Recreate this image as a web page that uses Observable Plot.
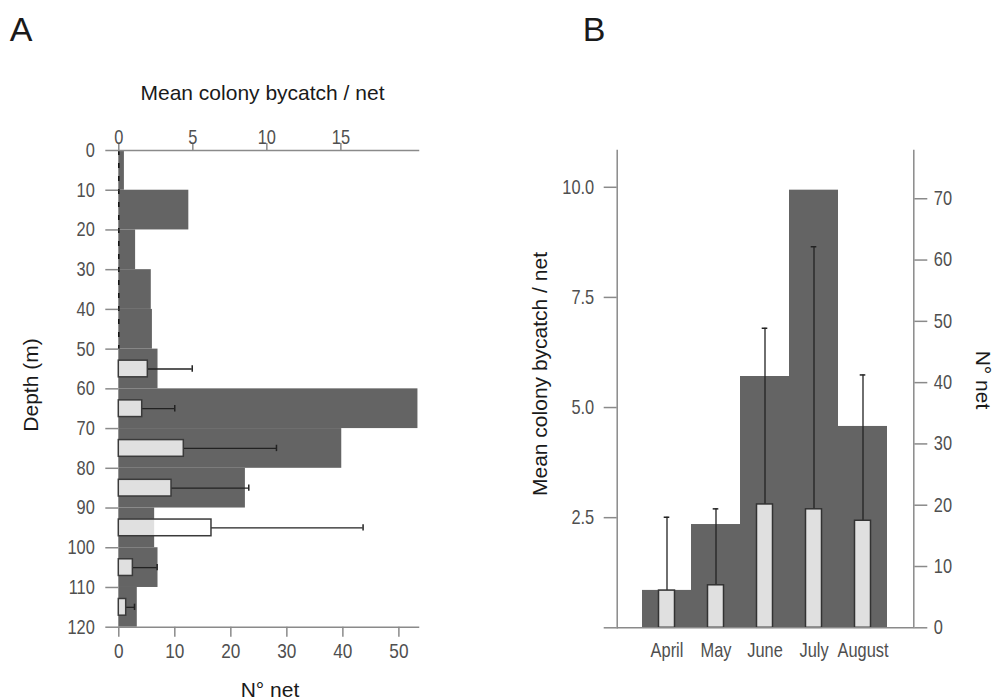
<!DOCTYPE html>
<html><head><meta charset="utf-8">
<script src="https://cdn.jsdelivr.net/npm/d3@7"></script>
<script src="https://cdn.jsdelivr.net/npm/@observablehq/plot@0.6"></script>
<style>
body{margin:0;background:#fff;}
#wrap{position:relative;width:995px;height:699px;overflow:hidden;font-family:"Liberation Sans",Arial,sans-serif;}
.panel{position:absolute;top:0;}
.lbl{position:absolute;white-space:nowrap;color:#1a1a1a;font-size:21px;line-height:1;}
</style></head><body><div id="wrap"></div>
<script>
// ---- Panel A data (by depth bin, m) ----
const depthStart = [0, 10, 20, 30, 40, 50, 60, 70, 80, 90, 100, 110];
const netsByDepth = [1, 12.5, 3, 5.8, 6, 7, 53.4, 39.8, 22.6, 6.4, 7, 3.3];
const bycatchByDepth = [0, 0, 0, 0, 0, 1.96, 1.58, 4.39, 3.56, 6.26, 0.95, 0.5];
const upperByDepth = [null, null, null, null, null, 4.96, 3.78, 10.65, 8.78, 16.5, 2.59, 1.06];
const depthTicks = [0, 10, 20, 30, 40, 50, 60, 70, 80, 90, 100, 110, 120];
const netTicksA = [0, 10, 20, 30, 40, 50];
const bycatchTicksA = [0, 5, 10, 15];

// ---- Panel B data (by month) ----
const months = ["April", "May", "June", "July", "August"];
const netsByMonth = [6.1, 16.85, 41, 71.4, 32.85];
const bycatchByMonth = [0.845, 0.965, 2.8, 2.69, 2.43];
const upperByMonth = [2.51, 2.7, 6.8, 8.65, 5.74];
const bycatchTicksB = [0, 2.5, 5, 7.5, 10];
const netTicksB = [0, 10, 20, 30, 40, 50, 60, 70];

const tickFont = "'Liberation Sans',Arial,sans-serif";
const DARK = "#646464", AXIS = "#8a8a8a", TXT = "#4f4f4f";

// Panel A: one x scale in "N° net" units; bycatch converted by K
const K = 14.8 / 5.6;
const rowsA = depthStart.map((d, i) => ({d0: d, d1: d + 10, mid: d + 5, n: netsByDepth[i], m: bycatchByDepth[i], u: upperByDepth[i]}));
const errA = rowsA.filter(r => r.u != null);

const plotA = Plot.plot({
  width: 460, height: 699,
  marginLeft: 118.3, marginRight: 42, marginTop: 150, marginBottom: 72.3,
  style: {fontFamily: tickFont, fontSize: "20px", color: TXT, background: "transparent", overflow: "visible"},
  x: {domain: [0, 53.5]},
  y: {domain: [0, 120], reverse: true},
  marks: [
    Plot.rectX(rowsA, {x1: 0, x2: "n", y1: "d0", y2: "d1", fill: DARK}),
    Plot.ruleX([0], {y1: 0, y2: 50, stroke: "#111", strokeWidth: 1.5, strokeDasharray: "5,8"}),
    Plot.ruleY(errA, {y: "mid", x1: d => d.m * K, x2: d => d.u * K, stroke: "#222", strokeWidth: 1.3}),
    Plot.ruleX(errA, {x: d => d.u * K, y1: d => d.mid - 0.8, y2: d => d.mid + 0.8, stroke: "#222", strokeWidth: 1.5}),
    Plot.rectX(errA, {x1: 0, x2: d => d.m * K, y1: d => d.mid - 2.1, y2: d => d.mid + 2.1, fill: "white", fillOpacity: 0.8, stroke: "#3a3a3a", strokeWidth: 1.5}),
    Plot.frame({anchor: "top", stroke: AXIS, strokeWidth: 1.5}),
    Plot.frame({anchor: "bottom", stroke: AXIS, strokeWidth: 1.5}),
    Plot.axisY({anchor: "left", ticks: depthTicks, tickSize: 13, tickPadding: 11, stroke: AXIS, strokeWidth: 1.5, label: null}),
    Plot.axisX({anchor: "top", ticks: bycatchTicksA.map(v => v * K), tickFormat: d => String(Math.round(d / K)), tickSize: 8, tickPadding: -1, stroke: AXIS, strokeWidth: 1.5, label: null}),
    Plot.axisX({anchor: "bottom", ticks: netTicksA, tickSize: 10, tickPadding: 6, stroke: AXIS, strokeWidth: 1.5, label: null, fontSize: 21})
  ]
});

// Panel B: y scale in bycatch units; nets converted by F
const F = 6.129 / 44.05;
const rowsB = months.map((m, i) => ({m, n: netsByMonth[i], v: bycatchByMonth[i], u: upperByMonth[i]}));

const plotB = Plot.plot({
  width: 495, height: 699,
  marginLeft: 116.7, marginRight: 81.7, marginTop: 150, marginBottom: 71.7,
  style: {fontFamily: tickFont, fontSize: "20px", color: TXT, background: "transparent", overflow: "visible"},
  x: {type: "band", domain: months, range: [140.7, 387.7], padding: 0},
  y: {domain: [0, 10.835]},
  marks: [
    Plot.barY(rowsB, {x: "m", y: d => d.n * F, fill: DARK}),
    Plot.ruleX(rowsB, {x: "m", y1: "v", y2: "u", stroke: "#222", strokeWidth: 1.3}),
    Plot.tickY(rowsB, {x: "m", y: "u", insetLeft: 21.7, insetRight: 21.7, stroke: "#222", strokeWidth: 1.5}),
    Plot.barY(rowsB, {x: "m", y: "v", insetLeft: 16.5, insetRight: 16.5, fill: "white", fillOpacity: 0.8, stroke: "#333", strokeWidth: 1.5}),
    Plot.ruleY([0], {stroke: AXIS, strokeWidth: 1.5}),
    Plot.frame({anchor: "left", stroke: AXIS, strokeWidth: 1.5}),
    Plot.frame({anchor: "right", stroke: AXIS, strokeWidth: 1.5}),
    Plot.axisY({anchor: "left", ticks: bycatchTicksB, tickFormat: d => d === 0 ? "" : d.toFixed(1), tickSize: 13, tickPadding: 10, stroke: AXIS, strokeWidth: 1.5, label: null}),
    Plot.axisY({anchor: "right", ticks: netTicksB.map(v => v * F), tickFormat: d => String(Math.round(d / F)), tickSize: 13, tickPadding: 7, stroke: AXIS, strokeWidth: 1.5, label: null}),
    Plot.axisX({anchor: "bottom", tickSize: 0, tickPadding: 15, label: null})
  ]
});

// condensed look for tick labels: squeeze each label horizontally about its anchor point
function narrow(svg, s) {
  svg.querySelectorAll("text").forEach(t => {
    const tr = t.getAttribute("transform");
    if (tr && tr.indexOf("translate") >= 0) t.setAttribute("transform", tr + ` scale(${s},1)`);
  });
}
narrow(plotA, 0.82);
narrow(plotB, 0.82);

const wrap = document.getElementById("wrap");
plotA.classList.add("panel"); plotA.style.left = "0px";
plotB.classList.add("panel"); plotB.style.left = "500px";
wrap.appendChild(plotA);
wrap.appendChild(plotB);

function label(text, x, y, size, rot) {
  const el = document.createElement("div");
  el.className = "lbl";
  el.textContent = text;
  el.style.left = x + "px";
  el.style.top = y + "px";
  el.style.fontSize = size + "px";
  el.style.transform = "translate(-50%,-50%)" + (rot ? " rotate(" + rot + "deg)" : "");
  wrap.appendChild(el);
}
label("A", 21, 29, 34);
label("B", 594, 29, 34);
label("Mean colony bycatch / net", 262.5, 91.7, 21);
label("N° net", 270, 689, 21);
label("Depth (m)", 30, 385, 21, -90);
label("Mean colony bycatch / net", 539, 374, 21, -90);
label("N° net", 983, 380, 21, 90);
</script>
</body></html>
